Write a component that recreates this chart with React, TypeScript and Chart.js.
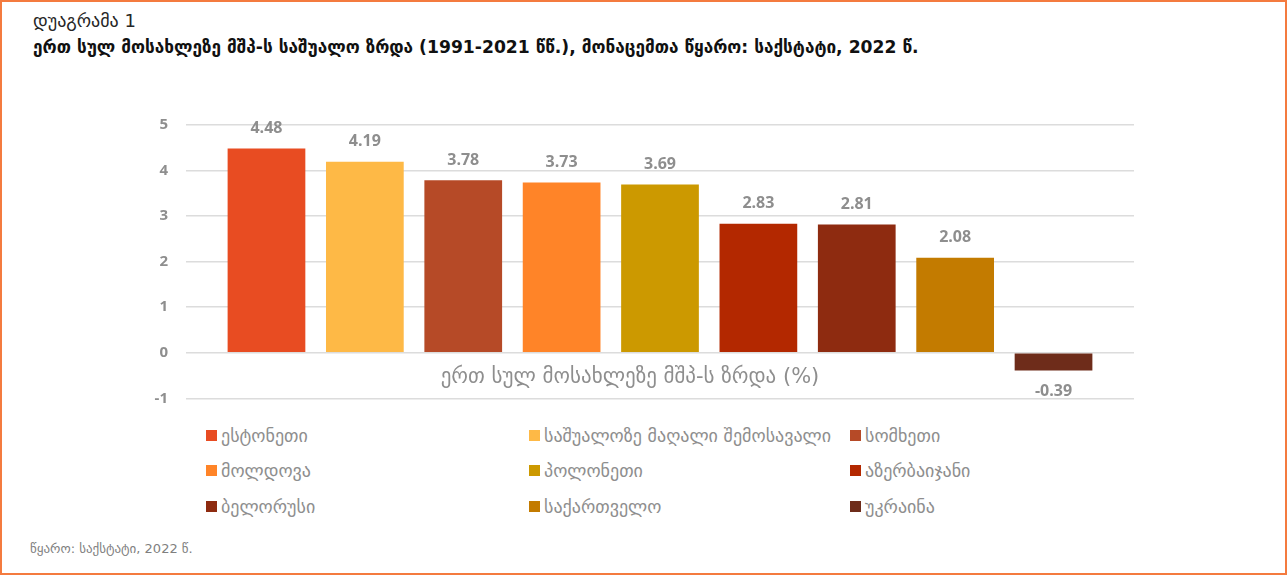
import React, { useEffect, useRef } from "react";
import { Chart, registerables } from "chart.js";

Chart.register(...registerables);

const categories = ["ერთ სულ მოსახლეზე მშპ-ს ზრდა (%)"];
const seriesNames = [
  "ესტონეთი",
  "საშუალოზე მაღალი შემოსავალი",
  "სომხეთი",
  "მოლდოვა",
  "პოლონეთი",
  "აზერბაიჯანი",
  "ბელორუსი",
  "საქართველო",
  "უკრაინა",
];
const seriesValues = [4.48, 4.19, 3.78, 3.73, 3.69, 2.83, 2.81, 2.08, -0.39];
const seriesColors = [
  "#E84C22",
  "#FEB946",
  "#B64A27",
  "#FF8428",
  "#CC9900",
  "#B32800",
  "#8E2B10",
  "#C37B00",
  "#6E2C1A",
];
const yMin = -1;
const yMax = 5;
const yStep = 1;

const GEO = '"DejaVu Sans", sans-serif';
const GREY = "#8e8e8e";

const valueLabels = {
  id: "valueLabels",
  afterDatasetsDraw(chart: any) {
    const ctx = chart.ctx;
    ctx.save();
    ctx.font = 'bold 16px "Open Sans", sans-serif';
    ctx.fillStyle = GREY;
    ctx.textAlign = "center";
    ctx.textBaseline = "middle";
    chart.data.datasets.forEach((ds: any, i: number) => {
      const meta = chart.getDatasetMeta(i);
      meta.data.forEach((bar: any, j: number) => {
        const v = ds.data[j] as number;
        const y = v >= 0 ? bar.y - 20 : bar.y + 21;
        ctx.fillText(v.toFixed(2), bar.x, y);
      });
    });
    ctx.restore();
  },
};

function ChartCanvas() {
  const ref = useRef<HTMLCanvasElement | null>(null);
  useEffect(() => {
    if (!ref.current) return;
    const chart = new Chart(ref.current, {
      type: "bar",
      data: {
        labels: categories,
        datasets: seriesNames.map((name, i) => ({
          label: name,
          data: [seriesValues[i]],
          backgroundColor: seriesColors[i],
          borderWidth: 0,
          categoryPercentage: 0.934,
          barPercentage: 0.79,
        })),
      },
      options: {
        animation: false,
        responsive: true,
        maintainAspectRatio: false,
        layout: { padding: { left: 136, right: 153, top: 24.7, bottom: 21.7 } },
        plugins: {
          legend: { display: false },
          tooltip: { enabled: false },
          title: { display: false },
        },
        scales: {
          x: {
            position: { y: 0 } as any,
            grid: { display: false },
            border: { display: false },
            ticks: {
              color: GREY,
              font: { family: GEO, size: 21 },
              padding: 4,
              labelOffset: -30,
            },
          },
          y: {
            min: yMin,
            max: yMax,
            afterFit: (scale: any) => {
              scale.width = 50;
            },
            grid: {
              color: "#dcdcdc",
              lineWidth: 1.5,
              drawTicks: true,
              tickLength: 18,
              tickColor: "rgba(0,0,0,0)",
            },
            border: { display: false },
            ticks: {
              stepSize: yStep,
              color: GREY,
              padding: 0,
              font: { family: '"Open Sans", sans-serif', size: 15, weight: "bold" },
            },
          },
        },
      },
      plugins: [valueLabels],
    });
    return () => chart.destroy();
  }, []);
  return <canvas ref={ref} />;
}

const legendCols = [206, 529, 850];
const legendRows = [435, 470, 506];

export default function App() {
  return (
    <div
      style={{
        position: "absolute",
        left: 0,
        top: 0,
        width: 1287,
        height: 575,
        background: "#fff",
        overflow: "hidden",
      }}
    >
      <div
        style={{
          position: "absolute",
          left: 33,
          top: 10,
          fontFamily: GEO,
          fontSize: 18,
          color: "#262626",
          whiteSpace: "nowrap",
        }}
      >
        დუაგრამა 1
      </div>
      <div
        style={{
          position: "absolute",
          left: 33,
          top: 37,
          fontFamily: GEO,
          fontSize: 17.2,
          fontWeight: "bold",
          color: "#111",
          whiteSpace: "nowrap",
        }}
      >
        ერთ სულ მოსახლეზე მშპ-ს საშუალო ზრდა (1991-2021 წწ.), მონაცემთა წყარო: საქსტატი, 2022 წ.
      </div>
      <div style={{ position: "absolute", left: 0, top: 100, width: 1287, height: 320 }}>
        <ChartCanvas />
      </div>
      {seriesNames.map((name, i) => {
        const x = legendCols[i % 3];
        const y = legendRows[Math.floor(i / 3)];
        return (
          <div
            key={name}
            style={{
              position: "absolute",
              left: x,
              top: y - 12,
              height: 24,
              display: "flex",
              alignItems: "center",
              whiteSpace: "nowrap",
              fontFamily: GEO,
              fontSize: 18,
              color: GREY,
            }}
          >
            <span
              style={{
                display: "inline-block",
                width: 11,
                height: 11,
                background: seriesColors[i],
                marginRight: 4,
              }}
            />
            <span>{name}</span>
          </div>
        );
      })}
      <div
        style={{
          position: "absolute",
          left: 30,
          top: 541,
          fontFamily: GEO,
          fontSize: 13,
          color: "#7f7f7f",
          whiteSpace: "nowrap",
        }}
      >
        წყარო: საქსტატი, 2022 წ.
      </div>
      <div
        style={{
          position: "absolute",
          left: 0,
          top: 0,
          width: 1287,
          height: 575,
          boxSizing: "border-box",
          border: "2px solid #F47B3F",
          pointerEvents: "none",
        }}
      />
    </div>
  );
}
